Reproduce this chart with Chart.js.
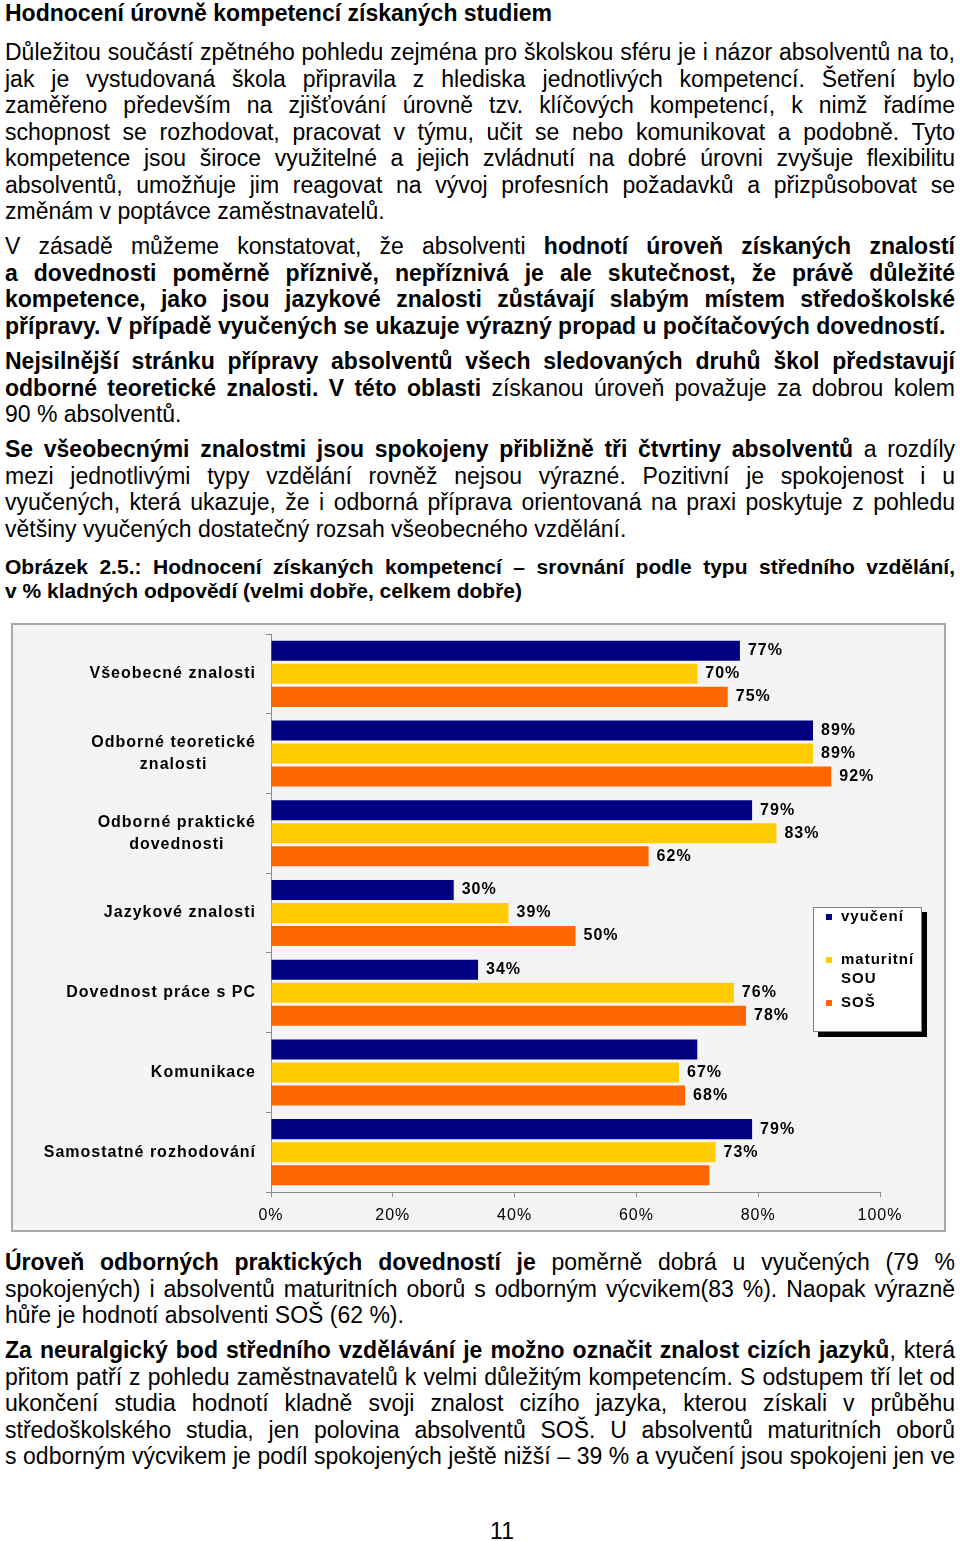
<!DOCTYPE html>
<html lang="cs"><head><meta charset="utf-8">
<script src="https://cdn.jsdelivr.net/npm/chart.js@4"></script>
<style>
html,body{margin:0;padding:0;background:#fff;}
body{width:960px;height:1541px;position:relative;font-family:"Liberation Sans",Arial,sans-serif;color:#000;overflow:hidden;}
.blk{position:absolute;left:5px;width:950px;font-size:23px;line-height:26.5px;}
.blk div{white-space:nowrap;}
.j{text-align:justify;text-align-last:justify;}
.l{text-align:left;}
.cap{font-size:21px;line-height:24px;font-weight:bold;}
#box{position:absolute;left:11px;top:623px;width:931px;height:605px;border:2px solid #a8a8a8;background:#f4f4f4;}
#pg{position:absolute;left:0;width:1004px;top:1518px;text-align:center;font-size:23px;line-height:26px;}
</style></head>
<body>
<div class="blk" style="top:0;line-height:26px;"><div class="l"><b>Hodnocení úrovně kompetencí získaných studiem</b></div></div>

<div class="blk" style="top:39px;">
<div class="j">Důležitou součástí zpětného pohledu zejména pro školskou sféru je i názor absolventů na to,</div>
<div class="j">jak je vystudovaná škola připravila z&nbsp;hlediska jednotlivých kompetencí. Šetření bylo</div>
<div class="j">zaměřeno především na zjišťování úrovně tzv. klíčových kompetencí, k nimž řadíme</div>
<div class="j">schopnost se rozhodovat, pracovat v týmu, učit se nebo komunikovat a podobně. Tyto</div>
<div class="j">kompetence jsou široce využitelné a jejich zvládnutí na dobré úrovni zvyšuje flexibilitu</div>
<div class="j">absolventů, umožňuje jim reagovat na vývoj profesních požadavků a přizpůsobovat se</div>
<div class="l">změnám v poptávce zaměstnavatelů.</div>
</div>

<div class="blk" style="top:233px;">
<div class="j">V zásadě můžeme konstatovat, že absolventi <b>hodnotí úroveň získaných znalostí</b></div>
<div class="j"><b>a&nbsp;dovednosti poměrně příznivě, nepříznivá je ale skutečnost, že právě důležité</b></div>
<div class="j"><b>kompetence, jako jsou jazykové znalosti zůstávají slabým místem středoškolské</b></div>
<div class="l"><b>přípravy. V případě vyučených se ukazuje výrazný propad u počítačových dovedností.</b></div>
</div>

<div class="blk" style="top:348px;">
<div class="j"><b>Nejsilnější stránku přípravy absolventů všech sledovaných druhů škol představují</b></div>
<div class="j"><b>odborné teoretické znalosti. V&nbsp;této oblasti</b> získanou úroveň považuje za dobrou kolem</div>
<div class="l">90 % absolventů.</div>
</div>

<div class="blk" style="top:436px;">
<div class="j"><b>Se všeobecnými znalostmi jsou spokojeny přibližně tři čtvrtiny absolventů</b> a rozdíly</div>
<div class="j">mezi jednotlivými typy vzdělání rovněž nejsou výrazné. Pozitivní je spokojenost i u</div>
<div class="j">vyučených, která ukazuje, že i odborná příprava orientovaná na praxi poskytuje z&nbsp;pohledu</div>
<div class="l">většiny vyučených dostatečný rozsah všeobecného vzdělání.</div>
</div>

<div class="blk cap" style="top:555px;">
<div class="j">Obrázek 2.5.: Hodnocení získaných kompetencí – srovnání podle typu středního vzdělání,</div>
<div class="l">v % kladných odpovědí (velmi dobře, celkem dobře)</div>
</div>

<div id="box"><canvas id="c" width="931" height="605"></canvas></div>

<div class="blk" style="top:1249px;">
<div class="j"><b>Úroveň odborných praktických dovedností je</b> poměrně dobrá u vyučených (79 %</div>
<div class="j">spokojených) i absolventů maturitních oborů s odborným výcvikem(83 %). Naopak výrazně</div>
<div class="l">hůře je hodnotí absolventi SOŠ (62 %).</div>
</div>

<div class="blk" style="top:1337px;">
<div class="j"><b>Za neuralgický bod středního vzdělávání je možno označit znalost cizích jazyků</b>, která</div>
<div class="j">přitom patří z pohledu zaměstnavatelů k velmi důležitým kompetencím. S odstupem tří let od</div>
<div class="j">ukončení studia hodnotí kladně svoji znalost cizího jazyka, kterou získali v&nbsp;průběhu</div>
<div class="j">středoškolského studia, jen polovina absolventů SOŠ. U absolventů maturitních oborů</div>
<div class="j">s odborným výcvikem je podíl spokojených ještě nižší – 39 % a vyučení jsou spokojeni jen ve</div>
</div>

<div id="pg">11</div>

<script>
// ---- data ----
const categories = [
  ["Všeobecné znalosti"],
  ["Odborné teoretické", "znalosti"],
  ["Odborné praktické", "dovednosti"],
  ["Jazykové znalosti"],
  ["Dovednost práce s PC"],
  ["Komunikace"],
  ["Samostatné rozhodování"]
];
const seriesNames = ["vyučení", "maturitní SOU", "SOŠ"];
const vyuceni      = [77, 89, 79, 30, 34, 70, 79];
const maturitniSOU = [70, 89, 83, 39, 76, 67, 73];
const sos          = [75, 92, 62, 50, 78, 68, 72];
// which value labels are printed in the original figure
const vyuceniShown      = [true, true, true, true, true, false, true];
const maturitniSOUShown = [true, true, true, true, true, true, true];
const sosShown          = [true, true, true, true, true, true, false];
const xTickValues = [0, 20, 40, 60, 80, 100];
const xTickLabels = ["0%", "20%", "40%", "60%", "80%", "100%"];

const FONT = '"Liberation Sans", Arial, sans-serif';
const shownFlags = [vyuceniShown, maturitniSOUShown, sosShown];

const spacingPlugin = {
  id: 'spacing',
  beforeDraw(chart) { chart.ctx.letterSpacing = '1px'; }
};

const catLabelPlugin = {
  id: 'catLabels',
  afterDraw(chart) {
    const ctx = chart.ctx, ys = chart.scales.y;
    ctx.save();
    ctx.letterSpacing = '1px';
    ctx.font = 'bold 16px ' + FONT;
    ctx.fillStyle = '#000';
    ctx.textBaseline = 'middle';
    ctx.textAlign = 'center';
    const right = ys.right - 15;
    const lh = 22;
    categories.forEach((lines, i) => {
      const cy = ys.getPixelForValue(i);
      const w = Math.max(...lines.map(t => ctx.measureText(t).width));
      const cx = right - w / 2;
      lines.forEach((t, k) => {
        ctx.fillText(t, cx, cy + (k - (lines.length - 1) / 2) * lh);
      });
    });
    ctx.restore();
  }
};

const valueLabelPlugin = {
  id: 'valueLabels',
  afterDatasetsDraw(chart) {
    const ctx = chart.ctx;
    ctx.save();
    ctx.letterSpacing = '1px';
    ctx.font = 'bold 16px ' + FONT;
    ctx.fillStyle = '#000';
    ctx.textBaseline = 'middle';
    ctx.textAlign = 'left';
    chart.data.datasets.forEach((ds, di) => {
      const meta = chart.getDatasetMeta(di);
      meta.data.forEach((bar, i) => {
        if (!shownFlags[di][i]) return;
        ctx.fillText(ds.data[i] + '%', bar.x + 8, bar.y);
      });
    });
    ctx.restore();
  }
};

const boxLegendPlugin = {
  id: 'boxLegend',
  afterDraw(chart, args, opts) {
    const ctx = chart.ctx;
    const x = opts.x, y = opts.y, w = opts.w, h = opts.h;
    ctx.save();
    ctx.fillStyle = '#000';
    ctx.fillRect(x + 5, y + 5, w, h);
    ctx.fillStyle = '#fff';
    ctx.fillRect(x, y, w, h);
    ctx.strokeStyle = '#808080';
    ctx.lineWidth = 1;
    ctx.strokeRect(x + 0.5, y + 0.5, w - 1, h - 1);
    ctx.letterSpacing = '1px';
    ctx.font = 'bold 15px ' + FONT;
    ctx.textBaseline = 'middle';
    ctx.textAlign = 'left';
    chart.data.datasets.forEach((ds, di) => {
      const iy = y + opts.firstY + di * opts.step;
      ctx.fillStyle = ds.backgroundColor;
      ctx.fillRect(x + 13, iy - 3, 6, 6);
      ctx.fillStyle = '#000';
      const words = ds.label.split(' ');
      const lines = [];
      let cur = '';
      words.forEach(wd => {
        const t = cur ? cur + ' ' + wd : wd;
        if (cur && ctx.measureText(t).width > opts.maxText) { lines.push(cur); cur = wd; }
        else cur = t;
      });
      lines.push(cur);
      lines.forEach((t, k) => ctx.fillText(t, x + 28, iy + k * 19));
    });
    ctx.restore();
  }
};

new Chart(document.getElementById('c'), {
  type: 'bar',
  data: {
    labels: categories.map(l => l.join(' ')),
    datasets: [
      { label: seriesNames[0], data: vyuceni,      backgroundColor: '#000080' },
      { label: seriesNames[1], data: maturitniSOU, backgroundColor: '#FFCC00' },
      { label: seriesNames[2], data: sos,          backgroundColor: '#FF6600' }
    ]
  },
  options: {
    indexAxis: 'y',
    responsive: false,
    animation: false,
    events: [],
    categoryPercentage: 0.866,
    barPercentage: 0.87,
    layout: { padding: { top: 9, right: 64, left: 0, bottom: 0 } },
    plugins: {
      legend: { display: false },
      tooltip: { enabled: false },
      title: { display: false },
      boxLegend: { x: 800, y: 282, w: 109, h: 125, firstY: 10, step: 43, maxText: 80 }
    },
    scales: {
      x: {
        min: 0, max: 100,
        afterBuildTicks(scale) { scale.ticks = xTickValues.map(v => ({ value: v })); },
        afterFit(scale) { scale.height = 38; },
        grid: { display: true, drawOnChartArea: false, drawTicks: true, tickLength: 5, color: '#8c8c8c' },
        border: { display: true, color: '#8c8c8c', width: 1 },
        ticks: {
          padding: 9,
          color: '#000',
          font: { family: FONT, size: 16 },
          callback: (v, i) => xTickLabels[i]
        }
      },
      y: {
        afterFit(scale) { scale.width = 258; },
        grid: { display: true, drawOnChartArea: false, drawTicks: true, tickLength: 5, color: '#8c8c8c', offset: true },
        border: { display: true, color: '#8c8c8c', width: 1 },
        ticks: { display: false }
      }
    }
  },
  plugins: [spacingPlugin, valueLabelPlugin, catLabelPlugin, boxLegendPlugin]
});
</script>
</body></html>
